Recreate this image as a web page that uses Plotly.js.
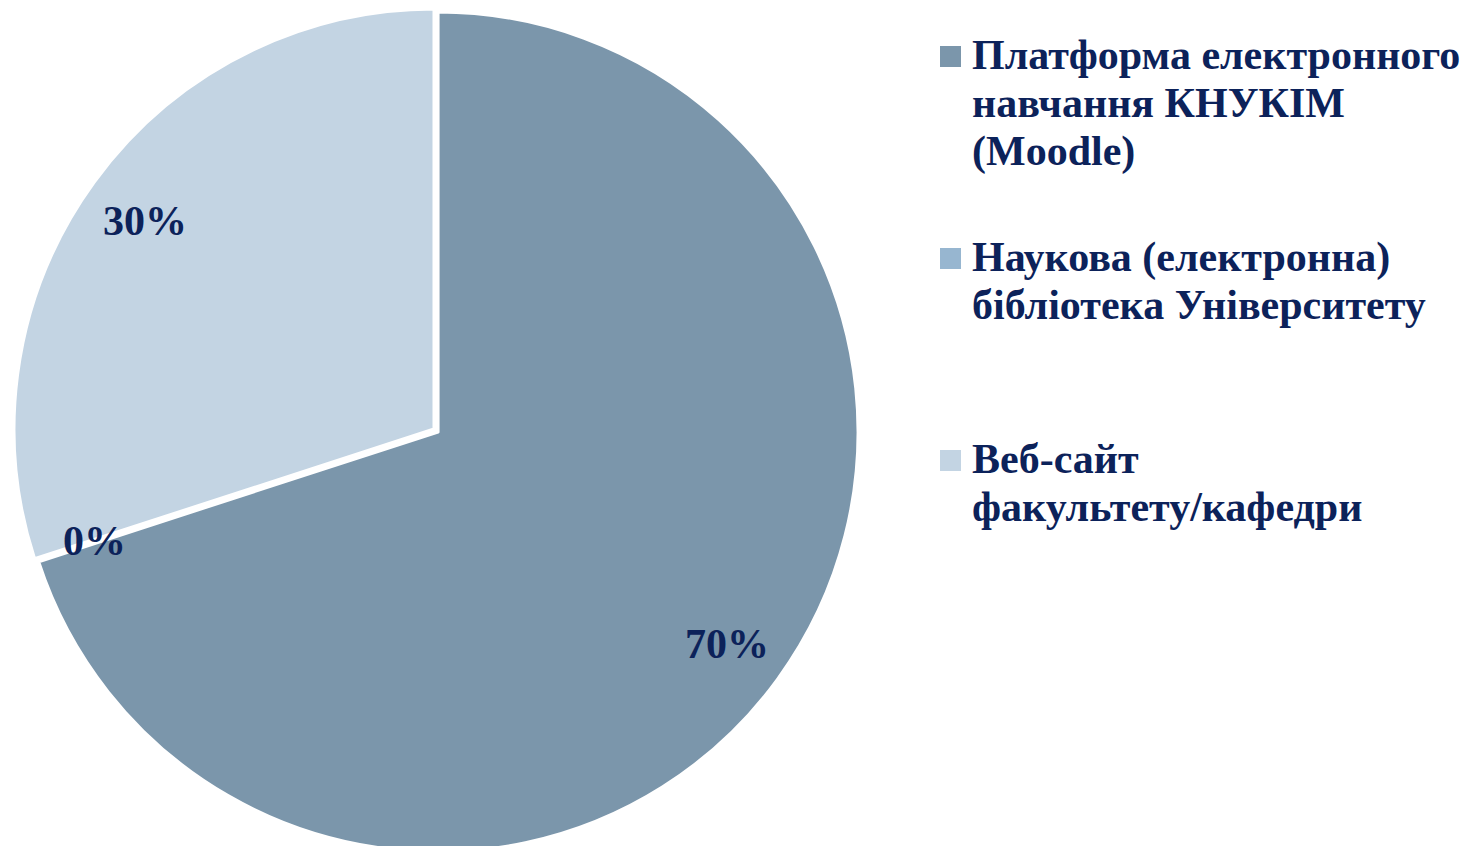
<!DOCTYPE html>
<html>
<head>
<meta charset="utf-8">
<script src="https://cdn.plot.ly/plotly-3.0.1.min.js"></script>
<style>
html,body{margin:0;padding:0;overflow:hidden;background:#fff;}
#chart{width:1475px;height:870px;}
</style>
</head>
<body>
<div id="chart"></div>
<script>
const labels = [
  "Платформа електронного навчання КНУКІМ (Moodle)",
  "Наукова (електронна) бібліотека Університету",
  "Веб-сайт факультету/кафедри"
];
const legendLines = [
  ["Платформа електронного", "навчання КНУКІМ", "(Moodle)"],
  ["Наукова (електронна)", "бібліотека Університету"],
  ["Веб-сайт", "факультету/кафедри"]
];
const values = [70, 0, 30];
const pulls = [0.012, 0, 0];
const colors = ["#7b96ab", "#97b6d0", "#c3d4e3"];

const W = 1475, H = 870;
const textColor = "#0c225a";
const fontFam = "'Liberation Serif', 'Times New Roman', serif";

// pie domain in pixels
const dom = {x0: 9, x1: 859, y0: 4, y1: 854};

const trace = {
  type: "pie",
  labels: labels,
  values: values,
  sort: false,
  direction: "clockwise",
  rotation: 0,
  pull: pulls,
  marker: {colors: colors, line: {color: "#ffffff", width: 3}},
  textinfo: "none",
  hoverinfo: "label+percent",
  showlegend: false,
  domain: {x: [dom.x0 / W, dom.x1 / W], y: [1 - dom.y1 / H, 1 - dom.y0 / H]}
};

const shapes = [], annotations = [];

// percentage labels placed along each slice's mid-angle
const total = values.reduce((a, b) => a + b, 0);
const maxPull = Math.max(...pulls);
const cx = (dom.x0 + dom.x1) / 2, cy = (dom.y0 + dom.y1) / 2;
const R = Math.min(dom.x1 - dom.x0, dom.y1 - dom.y0) / 2 / (1 + maxPull);
let cum = 0;
values.forEach((v, i) => {
  const mid = (cum + v / 2) / total * 2 * Math.PI;
  cum += v;
  const sx = Math.sin(mid), sy = -Math.cos(mid);
  const off = pulls[i] * R;
  const px = cx + sx * (off + 0.85 * R);
  const py = cy + sy * (off + 0.85 * R);
  annotations.push({
    xref: "paper", yref: "paper",
    x: px / W, y: 1 - (py + 2) / H,
    xanchor: "center", yanchor: "middle",
    showarrow: false,
    text: "<b>" + Math.round(v / total * 100) + "%</b>",
    font: {family: fontFam, size: 42, color: textColor}
  });
});

// custom legend built from the label arrays
const legendBaseline = [71, 273, 475];
const lineGap = 48;
const legFont = 42;
legendLines.forEach((lines, i) => {
  const b = legendBaseline[i];
  shapes.push({
    type: "rect", xref: "paper", yref: "paper",
    x0: 940 / W, x1: 961 / W,
    y0: 1 - (b - 4) / H, y1: 1 - (b - 25) / H,
    fillcolor: colors[i], line: {width: 0}
  });
  lines.forEach((ln, j) => {
    const base = b + j * lineGap;
    annotations.push({
      xref: "paper", yref: "paper",
      x: 970 / W, y: 1 - (base - 0.97 * legFont) / H,
      xanchor: "left", yanchor: "top", align: "left",
      showarrow: false,
      text: "<b>" + ln + "</b>",
      font: {family: fontFam, size: legFont, color: textColor}
    });
  });
});

const layout = {
  width: W, height: H,
  margin: {l: 0, r: 0, t: 0, b: 0},
  paper_bgcolor: "#ffffff",
  showlegend: false,
  shapes: shapes,
  annotations: annotations
};

Plotly.newPlot("chart", [trace], layout, {displayModeBar: false, staticPlot: true});
</script>
</body>
</html>
